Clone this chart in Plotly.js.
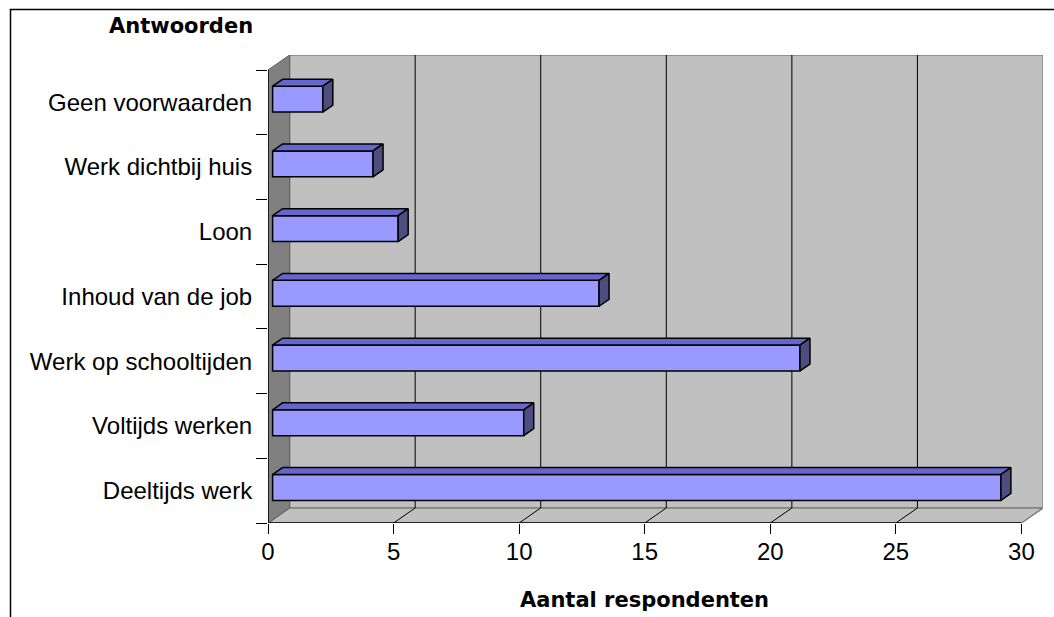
<!DOCTYPE html>
<html>
<head>
<meta charset="utf-8">
<script src="https://cdn.plot.ly/plotly-3.0.1.min.js"></script>
<style>html,body{margin:0;padding:0;background:#fff;}#chart{width:1054px;height:617px;}</style>
</head>
<body>
<div id="chart"></div>
<script>
// ---- data ----
const categories = ['Deeltijds werk', 'Voltijds werken', 'Werk op schooltijden', 'Inhoud van de job', 'Loon', 'Werk dichtbij huis', 'Geen voorwaarden'];
const values = [29, 10, 21, 13, 5, 4, 2];
const xTickVals = [0, 5, 10, 15, 20, 25, 30];
const xTitle = 'Aantal respondenten';
const yTitle = 'Antwoorden';

// ---- style constants (3D depth in axis units) ----
const DX = 0.86, DY = 0.232;      // full depth of the box
const F = 0.213, B = 0.676;       // bar front / back depth fractions
const BW = 0.4;                   // bar thickness
const XMAX = 30;
const idx = categories.map((_, i) => i);
const nCat = categories.length;

const shapes = [];
const yb = -0.5, yt = nCat - 0.5;
// back wall
shapes.push({type:'rect', xref:'x', yref:'y', layer:'below', x0:DX, x1:XMAX+DX, y0:yb+DY, y1:yt+DY,
  fillcolor:'#C0C0C0', line:{color:'#808080', width:1.5}});
// floor
shapes.push({type:'path', xref:'x', yref:'y', layer:'below',
  path:`M0,${yb} L${XMAX},${yb} L${XMAX+DX},${yb+DY} L${DX},${yb+DY} Z`,
  fillcolor:'#C0C0C0', line:{color:'#808080', width:1.5}});
// left wall
shapes.push({type:'path', xref:'x', yref:'y', layer:'below',
  path:`M0,${yb} L0,${yt} L${DX},${yt+DY} L${DX},${yb+DY} Z`,
  fillcolor:'#808080', line:{color:'#606060', width:1}});
// gridlines on back wall and floor
xTickVals.filter(v => v > 0 && v < XMAX).forEach(v => {
  shapes.push({type:'line', xref:'x', yref:'y', layer:'below', x0:v+DX, x1:v+DX, y0:yb+DY, y1:yt+DY, line:{color:'#000', width:1}});
  shapes.push({type:'line', xref:'x', yref:'y', layer:'below', x0:v, x1:v+DX, y0:yb, y1:yb+DY, line:{color:'#000', width:1}});
});
// front axis lines
shapes.push({type:'line', xref:'x', yref:'y', layer:'below', x0:0, x1:0, y0:yb, y1:yt, line:{color:'#000', width:1.5}});
shapes.push({type:'line', xref:'x', yref:'y', layer:'below', x0:0, x1:XMAX, y0:yb, y1:yb, line:{color:'#000', width:1.5}});
// outer frame
shapes.push({type:'rect', xref:'paper', yref:'paper', x0:(10.5-268)/775, x1:1.03, y0:-0.25, y1:(523-9.5)/468,
  fillcolor:'rgba(0,0,0,0)', line:{color:'#000', width:1.5}, layer:'above'});

// bar faces
const topX = [], topY = [], sideX = [], sideY = [];
values.forEach((v, i) => {
  const yc = i + F*DY;
  const y0 = yc - BW/2, y1 = yc + BW/2;
  const dd = B - F;
  const x0 = F*DX, x1 = F*DX + v;
  topX.push(x0, x1, x1 + dd*DX, x0 + dd*DX, x0, null);
  topY.push(y1, y1, y1 + dd*DY, y1 + dd*DY, y1, null);
  sideX.push(x1, x1 + dd*DX, x1 + dd*DX, x1, x1, null);
  sideY.push(y0, y0 + dd*DY, y1 + dd*DY, y1, y0, null);
});

const traces = [
  {type:'bar', orientation:'h', x:values, y:idx.map(i => i + F*DY), base:F*DX, width:BW,
   marker:{color:'#9999FF', line:{color:'#000', width:1.5}}, hoverinfo:'skip'},
  {type:'scatter', mode:'lines', x:topX, y:topY, fill:'toself', fillcolor:'#6666CC',
   line:{color:'#000', width:1.5}, hoverinfo:'skip'},
  {type:'scatter', mode:'lines', x:sideX, y:sideY, fill:'toself', fillcolor:'#4D4D80',
   line:{color:'#000', width:1.5}, hoverinfo:'skip'}
];

const labelFont = {family:'Liberation Sans, Arial, sans-serif', size:24, color:'#000'};
const titleFont = {family:'DejaVu Sans, Verdana, sans-serif', size:21, color:'#000', weight:'bold'};

const layout = {
  width:1054, height:617,
  margin:{l:268, r:11, t:55, b:94, pad:0},
  paper_bgcolor:'#fff', plot_bgcolor:'rgba(0,0,0,0)',
  showlegend:false, bargap:0,
  xaxis:{range:[0, XMAX+DX], tickmode:'array', tickvals:xTickVals, ticks:'outside', ticklen:10, tickwidth:1,
    tickcolor:'#000', showgrid:false, zeroline:false, showline:false, tickfont:labelFont, fixedrange:true,
    ticklabelstandoff:-3},
  yaxis:{range:[yb, yt+DY], tickmode:'array', tickvals:idx, ticktext:categories, ticks:'outside', ticklen:11,
    tickcolor:'rgba(0,0,0,0)', showgrid:false, zeroline:false, showline:false, tickfont:labelFont, fixedrange:true,
    ticklabelstandoff:-1,
    minor:{tickmode:'array', tickvals:idx.concat([nCat]).map(i => i - 0.5), ticks:'outside', ticklen:11, tickwidth:1, tickcolor:'#000', showgrid:false}},
  shapes:shapes,
  annotations:[
    {text:yTitle, xref:'paper', yref:'paper', x:(180.5-268)/775, y:(523-25.5)/468, xanchor:'center', yanchor:'middle', showarrow:false, font:titleFont},
    {text:xTitle, xref:'x', yref:'paper', x:15, y:(523-599.5)/468, xanchor:'center', yanchor:'middle', showarrow:false, font:titleFont}
  ]
};

Plotly.newPlot('chart', traces, layout, {displayModeBar:false, staticPlot:true});
</script>
</body>
</html>
